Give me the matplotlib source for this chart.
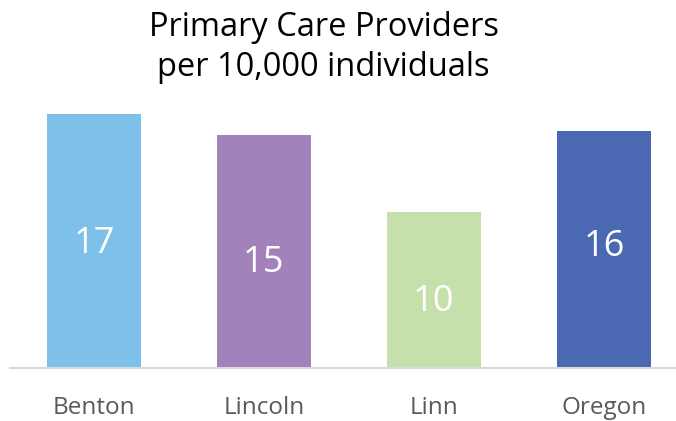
import matplotlib.pyplot as plt

plt.rcParams['font.family'] = ['Open Sans', 'DejaVu Sans']

counties = ['Benton', 'Lincoln', 'Linn', 'Oregon']
providers = [16.6, 15.2, 10.2, 15.5]
colors = ['#7DC1EA', '#A381BB', '#C5E0AB', '#4A69B2']
# where the value label sits, as share of the bar height
label_frac = [0.49, 0.45, 0.42, 0.51]

fig = plt.figure(figsize=(6.76, 4.21), dpi=100)
ax = fig.add_axes([10 / 676, 53 / 421, 666 / 676, 275.4 / 421])

x = range(len(counties))
bars = ax.bar(x, providers, width=0.553, color=colors, zorder=2)

for i, (b, v) in enumerate(zip(bars, providers)):
    ax.text(b.get_x() + b.get_width() / 2, v * label_frac[i], f'{v:.0f}',
            ha='center', va='center', color='white', fontsize=26)

ax.set_xlim(-0.494, 3.424)
ax.set_ylim(0, 18)
ax.set_xticks(list(x))
ax.set_xticklabels(counties, fontsize=17.5, color='#595959')
ax.tick_params(axis='x', length=0, pad=20)
ax.set_yticks([])
for s in ['top', 'right', 'left']:
    ax.spines[s].set_visible(False)
ax.spines['bottom'].set_color('#D9D9D9')
ax.spines['bottom'].set_linewidth(1.5)

fig.text(0.479, 0.975, 'Primary Care Providers\nper 10,000 individuals',
         ha='center', va='top', fontsize=23.5, color='black', linespacing=1.3)

fig.savefig('out.png', dpi=100)
